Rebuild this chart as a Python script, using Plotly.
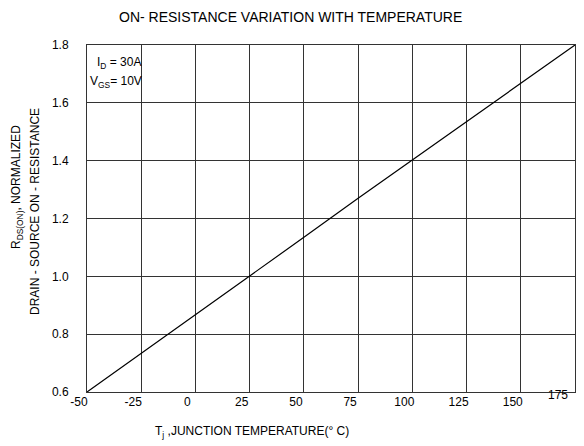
import plotly.graph_objects as go

# Data
temperature_c = [-50, -25, 0, 25, 50, 75, 100, 125, 150, 175]
rds_on_normalized = [0.60, 0.733, 0.866, 1.00, 1.135, 1.27, 1.403, 1.535, 1.668, 1.80]

x_tick_vals = [-50, -25, 0, 25, 50, 75, 100, 125, 150, 175]
x_tick_text = ["-50", "-25", "0", "25", "50", "75", "100", "125", "150", ""]
y_tick_vals = [0.6, 0.8, 1.0, 1.2, 1.4, 1.6, 1.8]
y_tick_text = ["0.6", "0.8", "1.0", "1.2", "1.4", "1.6", "1.8"]

SANS = "Liberation Sans, Arial, sans-serif"

# The page body has an 8px margin, so the figure is drawn 8px in from the window edge
OFF = 8
W, H = 584 - OFF, 446 - OFF
L, R, T, B = 79, 9, 37, 54
pw, ph = W - L - R, H - T - B

fig = go.Figure()
fig.add_trace(go.Scatter(
    x=temperature_c, y=rds_on_normalized, mode="lines",
    line=dict(color="black", width=1.2), showlegend=False, hoverinfo="skip",
))

fig.update_layout(
    width=W, height=H,
    margin=dict(l=L, r=R, t=T, b=B),
    paper_bgcolor="white", plot_bgcolor="white",
    xaxis=dict(range=[-50, 175], tickvals=x_tick_vals, ticktext=x_tick_text,
               showgrid=True, gridcolor="#333", gridwidth=1,
               showline=True, linecolor="#333", linewidth=1, mirror=True,
               ticks="", zeroline=False, ticklabelshift=-8, ticklabelstandoff=-1,
               tickfont=dict(family=SANS, size=12, color="black")),
    yaxis=dict(range=[0.6, 1.8], tickvals=y_tick_vals, ticktext=y_tick_text,
               showgrid=True, gridcolor="#333", gridwidth=1,
               showline=True, linecolor="#333", linewidth=1, mirror=True,
               ticks="", zeroline=False, ticklabelstandoff=15,
               tickfont=dict(family=SANS, size=12, color="black")),
)


def page(px, py):
    """Convert a window pixel position to paper coordinates."""
    return (px - OFF - L) / pw, 1 - (py - OFF - T) / ph


texts = [
    # (text, window x, window y, xanchor, size, angle)
    ("ON- RESISTANCE VARIATION WITH TEMPERATURE", 290, 17, "center", 14, 0),
    ("T<sub>j</sub> ,JUNCTION TEMPERATURE(° C)", 252, 432, "center", 12, 0),
    ("R<sub>DS(ON)</sub>, NORMALIZED", 17, 187, "center", 12, -90),
    ("DRAIN - SOURCE ON - RESISTANCE", 35, 212, "center", 12, -90),
    ("I<sub>D</sub> = 30A", 95, 63, "left", 12, 0),
    ("V<sub>GS</sub>= 10V", 88, 82, "left", 12, 0),
]
annotations = []
for text, px, py, xa, size, ang in texts:
    x, y = page(px, py)
    annotations.append(dict(text=text, x=x, y=y, xref="paper", yref="paper",
                            xanchor=xa, yanchor="middle", textangle=ang,
                            showarrow=False,
                            font=dict(family=SANS, size=size, color="black")))
# the last x tick label sits a little higher and to the left in the reference
annotations.append(dict(text="175", x=175, y=0.6, xref="x", yref="y",
                        xanchor="center", yanchor="middle", showarrow=False,
                        xshift=-17, yshift=-3,
                        font=dict(family=SANS, size=12, color="black")))
fig.update_layout(annotations=annotations)

fig.write_html("out.html")
